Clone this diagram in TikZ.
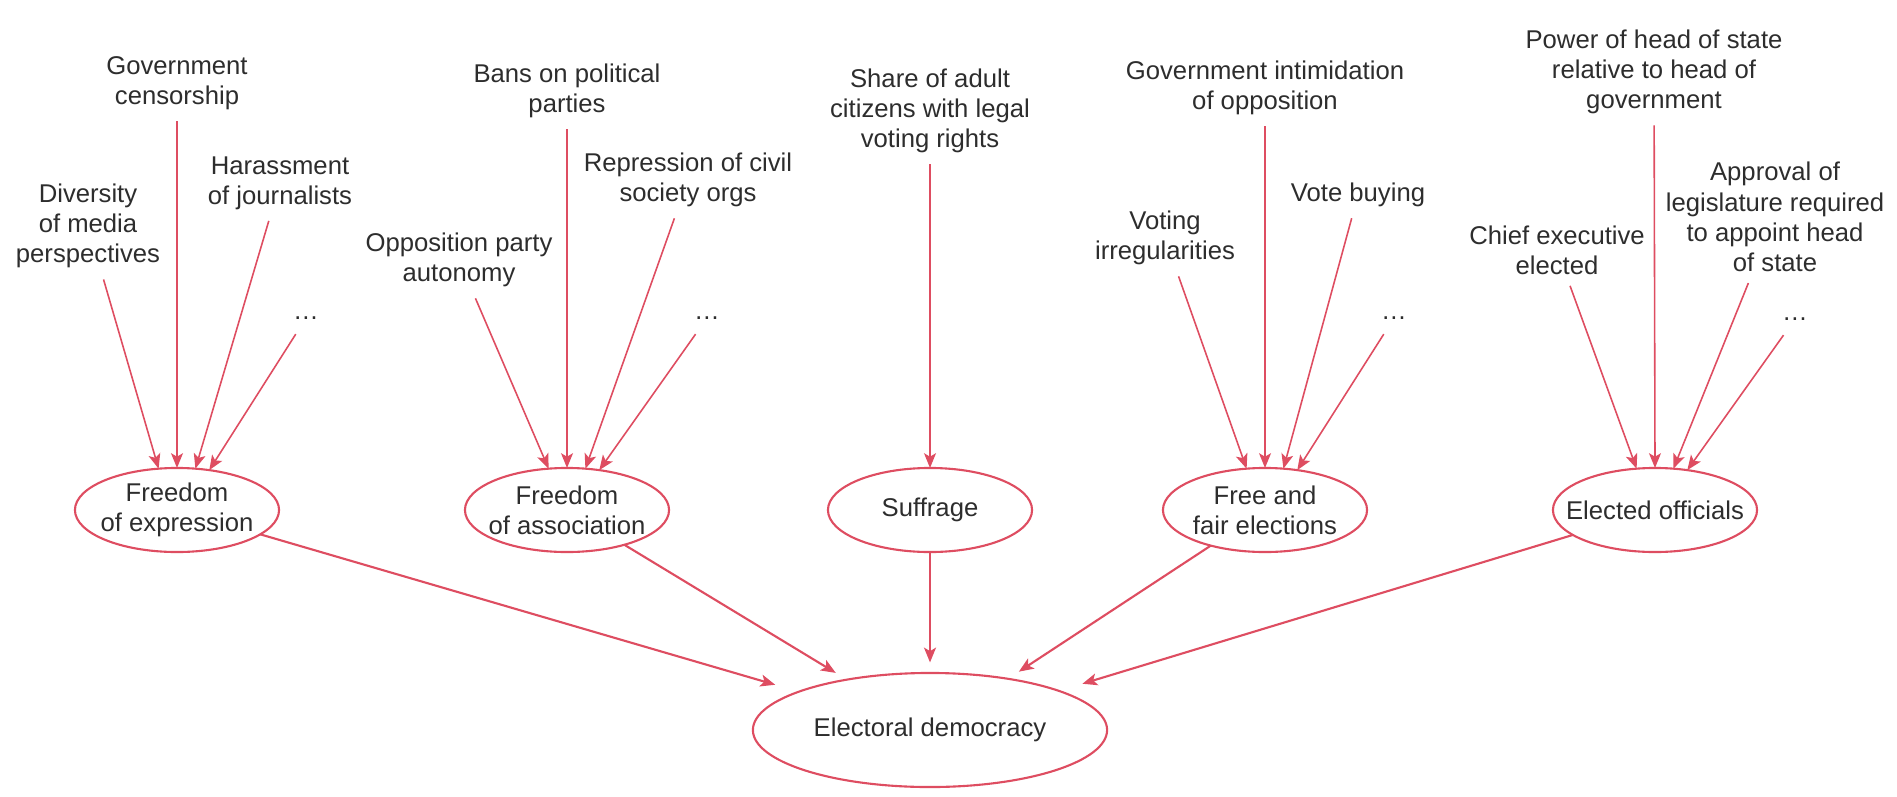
\documentclass[tikz,border=0pt]{standalone}
\usepackage{fontspec}
\setmainfont{Liberation Sans}
\usetikzlibrary{arrows.meta,shapes.geometric}
\definecolor{vdemred}{RGB}{222,77,97}
\definecolor{inktext}{RGB}{45,45,45}

\begin{document}
\begin{tikzpicture}[
  x=0.01cm, y=-0.01cm,
  ind/.style={align=center, inner sep=3pt, font=\fontsize{7.3}{8.6}\selectfont, text=inktext},
  more/.style={inner sep=4pt, font=\fontsize{7.3}{8.6}\selectfont, text=inktext},
  comp/.style={shape=ellipse, draw=vdemred, line width=0.6pt, align=center, inner sep=-6pt, outer sep=0pt,
    minimum width=2.04cm, minimum height=0.84cm, font=\fontsize{7.3}{8.6}\selectfont, text=inktext},
  idx/.style={comp, minimum width=3.54cm, minimum height=1.14cm},
  arr/.style={-{Stealth[length=4.2pt,width=3.4pt,inset=1pt]}, draw=vdemred, fill=vdemred, line width=0.45pt},
  barr/.style={arr, line width=0.6pt},
]
  \useasboundingbox (0,0) rectangle (1897,797);

  % components and the index
  \node[comp] (foe) at (177,510) {Freedom\\of expression};
  \node[comp] (foa) at (567,510) {Freedom\\of association};
  \node[comp] (suf) at (930,510) {Suffrage};
  \node[comp] (ffe) at (1265,510) {Free and\\fair elections};
  \node[comp] (eof) at (1655,510) {Elected officials};
  \node[idx] (ed) at (930,730) {Electoral democracy};

  % indicators
  \node[ind] (dv) at (88,226) {Diversity\\of media\\perspectives};
  \node[ind] (gc) at (177,83) {Government\\censorship};
  \node[ind] (hj) at (280,183) {Harassment\\of journalists};
  \node[more] (d1) at (306,318) {\ldots};

  \node[ind] (op) at (459,260) {Opposition party\\autonomy};
  \node[ind] (bp) at (567,91) {Bans on political\\parties};
  \node[ind] (rc) at (688,180) {Repression of civil\\society orgs};
  \node[more] (d2) at (707,318) {\ldots};

  \node[ind] (sa) at (930,111) {Share of adult\\citizens with legal\\voting rights};

  \node[ind] (vi) at (1165,238) {Voting\\irregularities};
  \node[ind] (gi) at (1265,88) {Government intimidation\\of opposition};
  \node[ind] (vb) at (1358,195) {Vote buying};
  \node[more] (d3) at (1394,318) {\ldots};

  \node[ind] (ce) at (1557,250) {Chief executive\\elected};
  \node[ind] (ph) at (1654,72) {Power of head of state\\relative to head of\\government};
  \node[ind] (al) at (1775,217) {Approval of\\legislature required\\to appoint head\\of state};
  \node[more] (d4) at (1795,319) {\ldots};

  % indicators -> components
  \draw[arr] (dv) -- (foe.114);
  \draw[arr] (gc) -- (foe.north);
  \draw[arr] (hj) -- (foe.66);
  \draw[arr] (d1) -- (foe.51);

  \draw[arr] (op) -- (foa.114);
  \draw[arr] (bp) -- (foa.north);
  \draw[arr] (rc) -- (foa.66);
  \draw[arr] (d2) -- (foa.51);

  \draw[arr] (sa) -- (suf.north);

  \draw[arr] (vi) -- (ffe.114);
  \draw[arr] (gi) -- (ffe.north);
  \draw[arr] (vb) -- (ffe.66);
  \draw[arr] (d3) -- (ffe.51);

  \draw[arr] (ce) -- (eof.114);
  \draw[arr] (ph) -- (eof.north);
  \draw[arr] (al) -- (eof.66);
  \draw[arr] (d4) -- (eof.51);

  % components -> index
  \draw[barr, shorten >=7pt] (foe) -- (ed);
  \draw[barr, shorten >=3.7pt] (foa) -- (ed);
  \draw[barr, shorten >=3pt] (suf) -- (ed);
  \draw[barr, shorten >=3.7pt] (ffe) -- (ed);
  \draw[barr, shorten >=7pt] (eof) -- (ed);
\end{tikzpicture}
\end{document}
